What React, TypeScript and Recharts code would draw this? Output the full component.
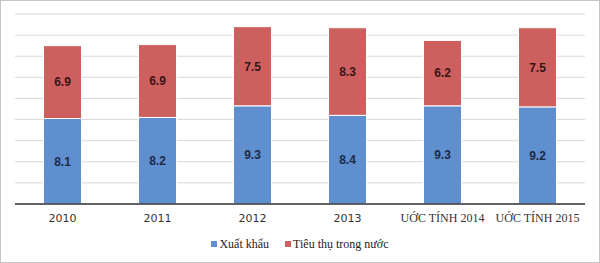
import { BarChart, Bar, XAxis, YAxis, CartesianGrid, Legend, LabelList } from 'recharts';

const categories = ['2010', '2011', '2012', '2013', 'UỚC TÍNH 2014', 'UỚC TÍNH 2015'];
const xuatKhau = [8.1, 8.2, 9.3, 8.4, 9.3, 9.2];
const tieuThu = [6.9, 6.9, 7.5, 8.3, 6.2, 7.5];
const yTicks = [0, 2, 4, 6, 8, 10, 12, 14, 16, 18];

const BLUE = '#5f8fcf';
const RED = '#cd5f5f';

const data = categories.map((name, i) => ({ name, xuatKhau: xuatKhau[i], tieuThu: tieuThu[i] }));

function CategoryTick(props: any) {
  const { x, y, payload } = props;
  const isYear = /^\d+$/.test(payload.value);
  return (
    <text
      x={x}
      y={y + 10}
      textAnchor="middle"
      fill="#333"
      fontSize={isYear ? 11 : 12}
      fontFamily={isYear ? 'DejaVu Sans, sans-serif' : 'Liberation Serif, serif'}
    >
      {payload.value}
    </text>
  );
}

function LegendContent() {
  const items = [
    { label: 'Xuất khẩu', color: BLUE },
    { label: 'Tiêu thụ trong nước', color: RED },
  ];
  return (
    <div style={{ height: 35, boxSizing: 'border-box', paddingTop: 8, display: 'flex', justifyContent: 'center', gap: 16, fontFamily: 'Liberation Serif, serif', fontSize: 12, color: '#222' }}>
      {items.map(it => (
        <div key={it.label} style={{ display: 'flex', alignItems: 'center', gap: 2, height: 16 }}>
          <span style={{ width: 6, height: 6, background: it.color, display: 'inline-block' }} />
          <span>{it.label}</span>
        </div>
      ))}
    </div>
  );
}

export default function App() {
  return (
    <div style={{ position: 'absolute', left: 0, top: 0, width: 600, height: 263, background: '#fff' }}>
      <BarChart
        width={600}
        height={263}
        data={data}
        margin={{ top: 14, right: 15, left: 15, bottom: 0 }}
        barCategoryGap="30%"
      >
        <CartesianGrid vertical={false} stroke="#d9d9d9" />
        <YAxis hide domain={[0, 18]} ticks={yTicks} interval={0} />
        <XAxis
          dataKey="name"
          height={24}
          tickLine={false}
          axisLine={{ stroke: '#333', strokeWidth: 1.5 }}
          tick={<CategoryTick />}
          interval={0}
        />
        <Legend verticalAlign="bottom" height={35} content={<LegendContent />} wrapperStyle={{ padding: 0 }} />
        <Bar dataKey="xuatKhau" stackId="a" fill={BLUE} stroke="#fff" strokeWidth={1} isAnimationActive={false}>
          <LabelList dataKey="xuatKhau" position="center" fill="#1c2b47" fontSize={12} fontWeight="bold" fontFamily="Liberation Sans, sans-serif" />
        </Bar>
        <Bar dataKey="tieuThu" stackId="a" fill={RED} stroke="#fff" strokeWidth={1} isAnimationActive={false}>
          <LabelList dataKey="tieuThu" position="center" fill="#3a1414" fontSize={12} fontWeight="bold" fontFamily="Liberation Sans, sans-serif" />
        </Bar>
      </BarChart>
      <div style={{ position: 'absolute', inset: 0, border: '1px solid #c4c4c4', pointerEvents: 'none' }} />
    </div>
  );
}
